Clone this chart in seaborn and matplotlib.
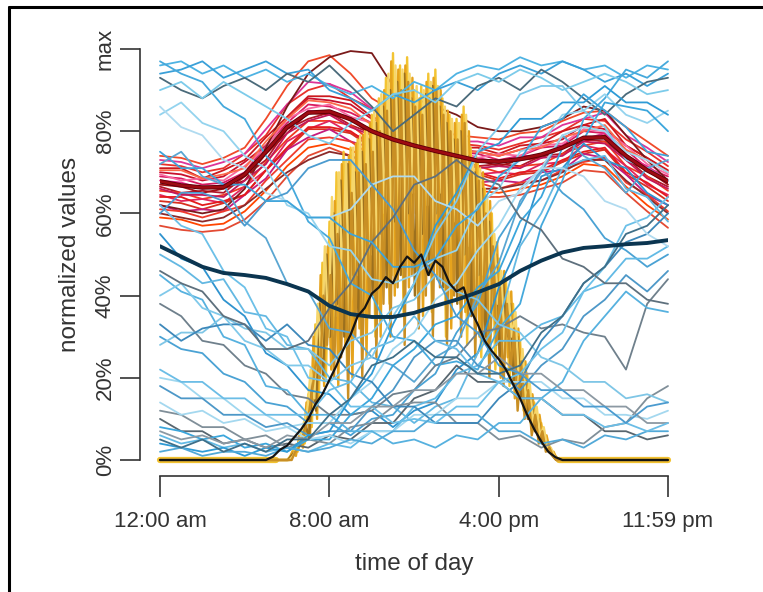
import pandas as pd
import matplotlib.pyplot as plt
import seaborn as sns

# minutes since midnight, hourly samples
hours = [0, 60, 120, 180, 240, 300, 360, 420, 480, 540, 600, 660, 720,
         780, 840, 900, 960, 1020, 1080, 1140, 1200, 1260, 1320, 1380, 1439]

# ---- red cluster (percent of max) ----
red_01 = [74, 73.5, 72, 73.5, 76, 83, 91, 97, 98.5, 94, 88, 85, 82, 80.5, 79, 78.5, 78, 79.5, 80, 82.5, 84.5, 85, 81, 77.5, 74]
red_02 = [72, 71.5, 70, 71, 74.5, 79, 86.5, 90, 91.5, 88, 85.5, 82, 80.5, 78, 77, 76.5, 75.5, 77, 78.5, 80, 83, 82.5, 78, 75, 71.5]
red_03 = [70, 69.5, 68, 69, 72.5, 76.5, 83, 88, 87.5, 86.5, 83, 81, 78, 77.5, 75.5, 75, 74, 75.5, 77, 78, 81.5, 80.5, 76.5, 73.5, 70]
red_04 = [69, 68.5, 67, 67.5, 70, 76.5, 82, 86.5, 86, 84.5, 82, 79, 78, 75.5, 75, 74.5, 73, 74, 76, 76.5, 80, 79.5, 75.5, 71, 69]
red_05 = [68, 67.5, 66, 67, 69.5, 75.5, 80.5, 85, 84.5, 83.5, 80, 78.5, 76, 76, 73.5, 73.5, 72.5, 74, 74, 76.5, 78, 79.5, 74, 71.5, 68]
red_06 = [66.5, 65, 65.5, 65, 69, 73, 80.5, 83, 84.5, 81.5, 79.5, 76.5, 76, 73.5, 73.5, 71.5, 72, 71.5, 74, 74.5, 78, 77.5, 73.5, 69, 66.5]
red_07 = [65.5, 65, 63.5, 64.5, 66.5, 72.5, 78, 82.5, 82.5, 81.5, 77.5, 76.5, 74, 73.5, 71.5, 71.5, 70, 71.5, 72, 74.5, 76.5, 77.5, 71.5, 69, 65.5]
red_08 = [64.5, 63, 63.5, 62.5, 66.5, 70.5, 77.5, 80.5, 82.5, 79.5, 77.5, 74.5, 74, 71.5, 71.5, 69.5, 70, 69.5, 72, 72.5, 76.5, 75.5, 71.5, 67, 64.5]
red_09 = [63, 62.5, 61, 62.5, 64.5, 70.5, 75.5, 80.5, 80.5, 79.5, 76, 74.5, 72, 71.5, 69.5, 69.5, 68, 69.5, 70, 72.5, 74.5, 75.5, 69.5, 66.5, 63]
red_10 = [62, 60.5, 61, 60.5, 64.5, 68.5, 75.5, 78.5, 80.5, 77.5, 76, 72.5, 72, 69.5, 69.5, 67.5, 68, 67.5, 70, 70.5, 74.5, 73.5, 69.5, 64.5, 62]
red_11 = [61, 60.5, 59, 60.5, 62, 68, 73, 78, 78.5, 77.5, 74, 72.5, 70, 69.5, 67.5, 67.5, 66, 67.5, 68, 70.5, 72.5, 73.5, 67.5, 64.5, 60.5]
red_12 = [57, 56, 55.5, 56, 58.5, 63, 69, 74, 76, 74, 71, 69, 67.5, 66, 65, 64, 64, 64.5, 66, 67.5, 70.5, 70, 65, 60.5, 56.5]
red_13 = [71, 71, 68.5, 70.5, 73, 78.5, 83.5, 88.5, 88.5, 87.5, 83.5, 81.5, 78.5, 78.5, 76, 76, 74.5, 76.5, 77, 80, 81.5, 83, 76.5, 73.5, 70.5]
red_14 = [69.5, 68, 68.5, 68, 71.5, 76, 83, 85.5, 86.5, 83.5, 82, 78.5, 77.5, 75.5, 75.5, 73.5, 74.5, 74, 76.5, 77, 80.5, 80, 76.5, 72, 69.5]
red_15 = [67, 66.5, 65, 66, 68, 74.5, 79.5, 84.5, 84, 83, 79, 78, 75.5, 75, 73, 73, 71.5, 73, 73.5, 76, 77.5, 79, 73, 70.5, 67]
red_16 = [59, 58.5, 57, 57.5, 60.5, 65.5, 71.5, 76, 77, 75.5, 72.5, 70.5, 68.5, 67.5, 66, 65.5, 65, 66, 67, 69, 72, 71.5, 66.5, 62, 58.5]
red_17 = [73, 72.5, 71, 72.5, 74.5, 80.5, 86.5, 92, 91.5, 89.5, 85.5, 83.5, 80.5, 80, 77.5, 77.5, 76.5, 78.5, 78.5, 81.5, 83, 84.5, 79, 76, 72.5]
red_18 = [64, 64, 62, 63, 64.5, 70.5, 76, 81, 81, 80, 76.5, 75, 72.5, 72, 70, 70, 68.5, 70, 70.5, 73, 75, 76, 70, 67.5, 64]
red_19 = [62, 61, 60, 61, 66, 76, 86, 94, 98, 99.5, 99, 91, 88, 86, 84, 81, 80, 80, 81, 83, 86, 85, 79, 73, 68]
red_20 = [60, 59, 58, 59, 62, 66, 70, 73, 75, 74, 72, 70, 69, 68, 67, 66, 66, 67, 68, 70, 73, 73, 68, 64, 60]
red_21 = [70.5, 70.5, 68.5, 69.5, 71, 77.5, 83, 87.5, 87, 85.5, 81.5, 80.5, 77.5, 77, 75, 75, 74, 75.5, 76, 78.5, 80, 81.5, 75.5, 73, 70]
red_22 = [66, 64.5, 64.5, 64, 68, 72, 79.5, 82.5, 84, 81, 79, 76, 75.5, 73, 73, 71, 71.5, 71, 73.5, 74, 77.5, 77, 73, 68.5, 66]
red_colors = ["#f04a2a", "#e8312a", "#c8102e", "#d81b60", "#e7298a", "#b2182b", "#f03b20",
              "#e0245e", "#d7301f", "#c51b7d", "#ef3b2c", "#e34a33", "#cb181d", "#f768a1",
              "#a50f15", "#ff4500", "#dd3497", "#e31a1c", "#7a1a1a", "#8c2a2a", "#fb6a4a", "#c2185b"]

# ---- blue cluster ----
blue_01 = [96, 97, 94, 96, 93, 95, 92, 94, 91, 89, 91, 88, 92, 90, 94, 96, 95, 98, 96, 97, 95, 96, 93, 96, 95]
blue_02 = [94, 95, 97, 93, 95, 97, 94, 95, 90, 88, 85, 89, 87, 90, 92, 90, 94, 96, 94, 97, 95, 92, 94, 91, 94]
blue_03 = [93, 90, 88, 91, 93, 90, 94, 92, 96, 91, 86, 80, 84, 88, 86, 91, 93, 90, 95, 92, 88, 84, 89, 92, 93]
blue_04 = [90, 92, 88, 92, 89, 86, 83, 79, 77, 82, 85, 89, 90, 87, 92, 94, 92, 95, 93, 90, 92, 94, 92, 89, 90]
blue_05 = [97, 94, 92, 86, 83, 74, 69, 58, 54, 43, 40, 30, 29, 23, 24, 22, 32, 38, 57, 68, 83, 88, 95, 93, 97]
blue_06 = [84, 87, 82, 80, 74, 71, 62, 60, 52, 51, 44, 43, 45, 49, 51, 62, 66, 75, 77, 84, 85, 89, 84, 82, 85]
blue_07 = [72, 75, 69, 67, 58, 54, 43, 41, 32, 31, 25, 23, 19, 25, 28, 40, 48, 63, 70, 79, 74, 71, 65, 71, 73]
blue_08 = [55, 49, 47, 39, 35, 26, 23, 17, 16, 11, 12, 8, 12, 14, 22, 26, 42, 53, 69, 71, 77, 73, 71, 65, 62]
blue_09 = [50, 47, 43, 44, 36, 35, 28, 27, 20, 19, 14, 13, 9, 13, 15, 26, 34, 52, 60, 71, 73, 74, 66, 64, 58]
blue_10 = [38, 35, 29, 28, 23, 21, 16, 15, 11, 11, 12, 16, 17, 23, 25, 31, 32, 35, 32, 33, 31, 30, 22, 38, 44]
blue_11 = [30, 27, 26, 21, 19, 14, 13, 9, 9, 6, 10, 11, 17, 21, 31, 38, 54, 62, 71, 65, 61, 54, 51, 47, 50]
blue_12 = [20, 19, 15, 15, 11, 11, 8, 9, 9, 15, 19, 27, 31, 39, 43, 51, 57, 66, 71, 79, 81, 80, 75, 73, 70]
blue_13 = [10, 7, 7, 4, 5, 3, 4, 3, 6, 5, 9, 9, 15, 17, 23, 19, 19, 15, 15, 11, 11, 7, 7, 5, 6]
blue_14 = [12, 11, 8, 8, 5, 6, 3, 5, 4, 8, 9, 13, 14, 14, 9, 9, 5, 6, 3, 5, 4, 8, 9, 15, 18]
blue_15 = [8, 7, 5, 6, 3, 4, 2, 5, 5, 11, 15, 23, 27, 33, 35, 42, 46, 58, 64, 76, 78, 87, 86, 85, 80]
blue_16 = [6, 4, 5, 3, 4, 2, 3, 2, 4, 3, 7, 7, 13, 15, 21, 23, 29, 29, 33, 35, 41, 43, 49, 49, 52]
blue_17 = [14, 11, 12, 9, 10, 7, 8, 5, 6, 4, 7, 7, 11, 11, 15, 15, 19, 19, 19, 15, 15, 11, 11, 10, 12]
blue_18 = [18, 15, 15, 11, 11, 8, 9, 6, 7, 7, 13, 17, 25, 29, 29, 23, 21, 17, 23, 27, 35, 39, 45, 41, 46]
blue_19 = [45, 41, 39, 30, 28, 18, 17, 11, 11, 7, 7, 4, 5, 3, 6, 5, 9, 9, 15, 19, 29, 35, 41, 37, 36]
blue_20 = [28, 31, 31, 35, 32, 31, 27, 27, 23, 29, 31, 37, 39, 45, 41, 39, 33, 31, 25, 23, 19, 19, 15, 16, 14]
blue_21 = [33, 29, 32, 33, 33, 29, 33, 28, 27, 21, 19, 13, 13, 9, 9, 9, 15, 19, 29, 35, 43, 47, 53, 55, 60]
blue_22 = [62, 57, 55, 46, 42, 32, 30, 20, 19, 13, 13, 9, 10, 9, 13, 13, 19, 21, 27, 31, 41, 47, 57, 59, 64]
blue_23 = [4, 3, 2, 3, 1, 3, 2, 6, 7, 15, 21, 33, 43, 57, 65, 75, 77, 83, 83, 87, 87, 91, 87, 87, 84]
blue_24 = [7, 5, 6, 4, 5, 3, 6, 5, 9, 9, 13, 13, 17, 17, 21, 21, 25, 21, 21, 17, 17, 13, 13, 9, 9]
blue_25 = [2, 3, 1, 2, 2, 1, 3, 2, 3, 5, 4, 7, 7, 11, 11, 11, 7, 7, 4, 5, 3, 6, 5, 7, 7]
blue_26 = [22, 19, 19, 15, 15, 11, 11, 11, 17, 19, 27, 29, 35, 29, 27, 21, 19, 15, 15, 11, 11, 8, 9, 7, 9]
blue_27 = [86, 81, 79, 73, 71, 65, 63, 59, 59, 61, 67, 69, 69, 63, 61, 57, 63, 65, 71, 71, 69, 63, 61, 55, 52]
blue_28 = [60, 65, 65, 63, 57, 63, 65, 71, 73, 73, 67, 61, 51, 45, 35, 31, 23, 21, 17, 17, 13, 13, 9, 13, 14]
blue_29 = [5, 3, 5, 2, 4, 2, 5, 5, 11, 15, 23, 25, 29, 25, 25, 21, 21, 23, 31, 35, 43, 47, 55, 57, 62]
blue_30 = [40, 43, 37, 35, 29, 27, 23, 23, 19, 23, 25, 35, 43, 55, 63, 75, 81, 89, 91, 91, 85, 81, 73, 71, 68]
blue_31 = [46, 43, 41, 35, 33, 27, 27, 29, 37, 43, 53, 59, 67, 69, 73, 69, 67, 59, 56, 49, 47, 43, 43, 39, 38]
blue_32 = [75, 71, 71, 67, 67, 63, 63, 59, 59, 55, 53, 47, 47, 49, 57, 61, 69, 73, 81, 83, 89, 85, 81, 75, 74]
blue_colors = ["#4eb3e3", "#3aa0d8", "#4a6a7a", "#7ccbea", "#45a9dc", "#93d3ee", "#5aa6d2", "#2f93cf",
               "#63b8e2", "#6f808c", "#4aa2d4", "#9fd7ef", "#58666f", "#808f99", "#3ba6dc", "#62bae5",
               "#a4d8ef", "#4d98c8", "#56b1df", "#7fc6e6", "#3d88ba", "#6cc0e8", "#2e9bd6", "#8c99a3",
               "#52a9d8", "#6bbde6", "#b0dbf0", "#4b9bcf", "#3f6f88", "#80c9ea", "#5e707d", "#3ea4da"]

# ---- cluster means ----
red_mean = [67.8, 66.8, 66.3, 66.4, 69.5, 75, 81, 84.5, 84.8, 82.9, 80, 78, 76.5, 75.2, 74,
            72.8, 72.6, 73.2, 74.3, 76, 78.4, 78.5, 74, 70.5, 67.8]
blue_mean = [52, 49.5, 47, 45.5, 45, 44.3, 42.8, 41, 37.5, 35.5, 34.8, 34.8, 35.8, 37.5, 39,
             40.8, 42.8, 46, 48.5, 50.5, 51.6, 52, 52.5, 52.8, 53.5]

# ---- solar cluster: 10-minute samples starting at the given minute, zero at night ----
sun_01_start = 360
sun_01 = [0, 1, 3, 2, 7, 4, 16, 8, 33, 15, 48, 20, 58, 25, 70, 30, 75, 22, 76, 35, 78, 28, 80, 40,
          84, 30, 88, 45, 93, 38, 99, 50, 96, 35, 98, 55, 90, 40, 91, 48, 94, 36, 95, 52, 88, 30,
          84, 45, 83, 38, 86, 28, 76, 40, 73, 25, 66, 35, 60, 22, 49, 30, 44, 18, 38, 20, 29, 12,
          21, 9, 14, 6, 9, 3, 4, 2, 1, 0, 0]
sun_02_start = 365
sun_02 = [0, 2, 1, 6, 3, 14, 6, 30, 10, 45, 18, 52, 22, 63, 18, 72, 28, 74, 20, 77, 32, 79, 25, 82,
          42, 86, 30, 90, 48, 97, 40, 95, 55, 96, 42, 93, 60, 88, 35, 92, 50, 93, 44, 90, 58, 85,
          32, 82, 48, 84, 36, 80, 42, 74, 30, 70, 28, 63, 35, 53, 20, 46, 25, 41, 15, 32, 18, 24,
          10, 16, 8, 11, 5, 6, 2, 2, 0, 0]
sun_03_start = 362
sun_03 = [0, 1, 2, 4, 6, 9, 5, 20, 12, 38, 20, 50, 30, 60, 38, 68, 30, 72, 45, 70, 35, 75, 50, 78,
          40, 82, 55, 86, 42, 90, 58, 92, 45, 94, 60, 88, 40, 85, 55, 89, 45, 91, 60, 86, 42, 82,
          55, 78, 38, 80, 50, 74, 35, 70, 45, 66, 30, 58, 38, 50, 25, 44, 30, 38, 18, 30, 15, 22,
          10, 15, 7, 10, 4, 5, 2, 1, 0, 0]
sun_04_start = 367
sun_04 = [0, 1, 3, 5, 9, 12, 22, 15, 38, 25, 52, 30, 64, 35, 70, 42, 73, 30, 76, 45, 79, 35, 81, 50,
          85, 38, 89, 60, 94, 45, 96, 62, 95, 50, 94, 65, 91, 48, 90, 62, 92, 50, 91, 65, 86, 45,
          83, 58, 82, 40, 84, 52, 73, 38, 71, 45, 64, 30, 55, 38, 46, 25, 41, 30, 36, 18, 27, 14,
          19, 9, 13, 6, 8, 3, 3, 1, 0, 0]
sun_05_start = 363
sun_05 = [0, 0, 2, 3, 5, 8, 12, 18, 25, 20, 40, 28, 45, 20, 55, 25, 60, 15, 65, 30, 70, 20, 72, 35,
          75, 25, 80, 38, 85, 30, 88, 42, 90, 28, 92, 45, 86, 32, 84, 40, 88, 30, 90, 42, 84, 28,
          80, 40, 78, 30, 82, 35, 70, 25, 68, 30, 60, 20, 52, 28, 42, 18, 38, 22, 32, 12, 24, 10,
          17, 6, 11, 4, 7, 2, 3, 1, 0, 0]
sun_colors = ["#f3c433", "#e6a31c", "#9c701e", "#f6d66b", "#c98f24"]

# solar mean (black), 20-minute samples
sun_mean_t = [0, 300, 320, 340, 360, 380, 400, 420, 440, 460, 480, 500, 520, 540, 560, 580, 600,
              620, 640, 660, 680, 700, 720, 740, 760, 780, 800, 820, 840, 860, 880, 900, 920, 940,
              960, 980, 1000, 1020, 1040, 1060, 1080, 1100, 1120, 1140, 1439]
sun_mean = [0, 0, 0.8, 2.5, 3.5, 5.5, 7.5, 10, 13.5, 16, 19.5, 23, 27, 30.5, 35, 37, 40.5, 42, 44.5,
            43, 47, 49.5, 48, 50, 45, 48.5, 47, 43, 41, 42, 36.5, 33, 29, 26.5, 24.5, 22, 18.5, 15,
            11, 7.5, 4.5, 2, 0.7, 0, 0]


def long_table(series, times, colors, group):
    rows = []
    for i, (vals, col) in enumerate(zip(series, colors)):
        ts = times[i] if isinstance(times[0], list) else times
        for t, v in zip(ts, vals):
            rows.append({"id": f"{group}{i}", "minute": t, "value": v / 100, "color": col})
    return pd.DataFrame(rows)


reds = [red_01, red_02, red_03, red_04, red_05, red_06, red_07, red_08, red_09, red_10, red_11,
        red_12, red_13, red_14, red_15, red_16, red_17, red_18, red_19, red_20, red_21, red_22]
blues = [blue_01, blue_02, blue_03, blue_04, blue_05, blue_06, blue_07, blue_08, blue_09, blue_10,
         blue_11, blue_12, blue_13, blue_14, blue_15, blue_16, blue_17, blue_18, blue_19, blue_20,
         blue_21, blue_22, blue_23, blue_24, blue_25, blue_26, blue_27, blue_28, blue_29, blue_30,
         blue_31, blue_32]
suns = [(sun_01_start, sun_01), (sun_02_start, sun_02), (sun_03_start, sun_03),
        (sun_04_start, sun_04), (sun_05_start, sun_05)]
sun_vals = [[0] + s + [0] for _, s in suns]
sun_times = [[0] + [st + 10 * k for k in range(len(s))] + [1439] for st, s in suns]

df_red = long_table(reds, hours, red_colors, "r")
df_blue = long_table(blues, hours, blue_colors, "b")
df_sun = long_table(sun_vals, sun_times, sun_colors, "s")

sns.set_theme(style="white")
plt.rcParams["font.family"] = ["Liberation Sans", "DejaVu Sans"]

fig = plt.figure(figsize=(7.63, 5.92), dpi=100)
ax = fig.add_axes([160 / 763, 132 / 592, 508 / 763, 411 / 592])


def draw(df, lw):
    pal = dict(zip(df["id"], df["color"]))
    sns.lineplot(data=df, x="minute", y="value", hue="id", units="id", estimator=None,
                 palette=pal, legend=False, sort=False, lw=lw, ax=ax, clip_on=False)


draw(df_red, 1.3)
# thick yellow baseline glow at night
sns.lineplot(x=[0, 330], y=[0, 0], color="#f2c230", lw=4.5, ax=ax, clip_on=False)
sns.lineplot(x=[1130, 1439], y=[0, 0], color="#f2c230", lw=4.5, ax=ax, clip_on=False)
draw(df_sun, 1.7)
draw(df_blue, 1.3)

sns.lineplot(x=hours, y=[v / 100 for v in red_mean], color="#5e0008", lw=3.2, ax=ax)
sns.lineplot(x=hours, y=[v / 100 for v in red_mean], color="#9e0b12", lw=1.9, ax=ax)
sns.lineplot(x=hours, y=[v / 100 for v in blue_mean], color="#0b3550", lw=2.8, ax=ax)
sns.lineplot(x=sun_mean_t, y=[v / 100 for v in sun_mean], color="#141414", lw=1.6, ax=ax,
             clip_on=False)

ax.set_xlim(0, 1439)
ax.set_ylim(0, 1)
for s in ["top", "right"]:
    ax.spines[s].set_visible(False)
ax.spines["left"].set_position(("outward", 14.4))
ax.spines["bottom"].set_position(("outward", 11.5))
ax.spines["left"].set_bounds(0, 1)
ax.spines["bottom"].set_bounds(0, 1439)
for s in ["left", "bottom"]:
    ax.spines[s].set_color("#333333")
    ax.spines[s].set_linewidth(1.2)

ax.set_xticks([0, 480, 960, 1439])
ax.set_xticklabels(["12:00 am", "8:00 am", "4:00 pm", "11:59 pm"])
ax.set_yticks([0, 0.2, 0.4, 0.6, 0.8, 1.0])
ax.set_yticklabels(["0%", "20%", "40%", "60%", "80%", "max"], rotation=90, va="center")
ax.tick_params(axis="x", length=15, width=1.2, color="#333333", labelsize=16,
               labelcolor="#333333", pad=10, bottom=True, direction="out")
ax.tick_params(axis="y", length=14.4, width=1.2, color="#333333", labelsize=16,
               labelcolor="#333333", pad=3, left=True, direction="out")
ax.set_xlabel("time of day", fontsize=17.5, color="#333333", labelpad=15)
ax.set_ylabel("normalized values", fontsize=17.5, color="#333333", labelpad=10)

# screenshot frame
fig.add_artist(plt.Line2D([9 / 763, 9 / 763], [0, 1 - 7 / 592], color="black", lw=2.2,
                          transform=fig.transFigure))
fig.add_artist(plt.Line2D([9 / 763, 1], [1 - 7 / 592, 1 - 7 / 592], color="black", lw=2.2,
                          transform=fig.transFigure))

fig.savefig("out.png", dpi=100)
